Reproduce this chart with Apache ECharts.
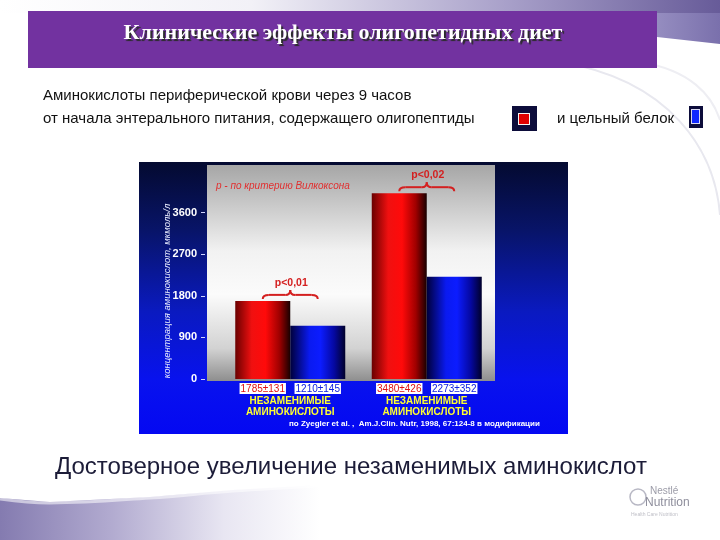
<!DOCTYPE html>
<html><head><meta charset="utf-8">
<script src="https://cdn.jsdelivr.net/npm/echarts@6/dist/echarts.min.js"></script>
<style>html,body{margin:0;padding:0;background:#fff}#c{width:720px;height:540px}</style>
</head><body><div id="c"></div>
<script>
// ---- data ----
const categories = ['НЕЗАМЕНИМЫЕ\nАМИНОКИСЛОТЫ', 'НЕЗАМЕНИМЫЕ\nАМИНОКИСЛОТЫ'];
const seriesNames = ['олигопептиды', 'цельный белок'];
const oligopeptideValues = [1690, 4020];
const wholeProteinValues = [1150, 2210];
const oligopeptideLabels = ['1785±131', '3480±426'];
const wholeProteinLabels = ['1210±145', '2273±352'];
const yTicks = [0, 900, 1800, 2700, 3600];
const pValues = ['p<0,01', 'p<0,02'];

const title = 'Клинические эффекты олигопетидных диет';
const subtitle1 = 'Аминокислоты периферической крови через 9 часов';
const subtitle2 = 'от начала энтерального питания, содержащего олигопептиды';
const subtitle3 = 'и цельный белок';
const yName = 'концентрация аминокислот, мкмоль/л';
const noteText = 'p - по критерию Вилкоксона';
const sourceText = 'по Zyegler et al. ,  Am.J.Clin. Nutr, 1998, 67:124-8 в модификации';
const conclusion = 'Достоверное увеличение незаменимых аминокислот';

const BAR_W = 55;
const G = echarts.graphic;

const redGrad = new G.LinearGradient(0, 0, 1, 0, [
  {offset: 0, color: '#6a0000'}, {offset: 0.3, color: '#f01010'},
  {offset: 0.55, color: '#ff0a0a'}, {offset: 0.8, color: '#a00000'}, {offset: 1, color: '#180000'}]);
const blueGrad = new G.LinearGradient(0, 0, 1, 0, [
  {offset: 0, color: '#00003a'}, {offset: 0.35, color: '#0a1af0'},
  {offset: 0.55, color: '#0c1cff'}, {offset: 0.8, color: '#0508a0'}, {offset: 1, color: '#00002a'}]);

const redIcon = 'image://data:image/svg+xml;utf8,' + encodeURIComponent(
  '<svg xmlns="http://www.w3.org/2000/svg" width="25" height="25"><rect width="25" height="25" fill="#0c0c3a"/><rect x="6.5" y="7.5" width="11" height="11" fill="#e00000" stroke="#f4f4f4" stroke-width="1"/></svg>');
const blueIcon = 'image://data:image/svg+xml;utf8,' + encodeURIComponent(
  '<svg xmlns="http://www.w3.org/2000/svg" width="14" height="22"><rect width="14" height="22" fill="#0c0c3a"/><rect x="2.5" y="3.5" width="8" height="14" fill="#1028ff" stroke="#d8d8f0" stroke-width="1"/></svg>');

const chart = echarts.init(document.getElementById('c'), null, {renderer: 'canvas'});

chart.setOption({
  backgroundColor: '#ffffff',
  animation: false,
  legend: [
    {data: [{name: seriesNames[0], icon: redIcon}], left: 512, top: 106, itemWidth: 25, itemHeight: 25,
     formatter: () => '', selectedMode: false, padding: 0, itemGap: 0},
    {data: [{name: seriesNames[1], icon: blueIcon}], left: 689, top: 106, itemWidth: 14, itemHeight: 22,
     formatter: () => '', selectedMode: false, padding: 0, itemGap: 0}
  ],
  grid: {left: 222, top: 165, width: 273, height: 214, containLabel: false},
  xAxis: {
    type: 'category', data: categories,
    axisLine: {show: false}, axisTick: {show: false},
    axisLabel: {color: '#ffff30', fontWeight: 'bold', fontSize: 10, lineHeight: 11,
      fontFamily: 'Arial, Liberation Sans', margin: 17, interval: 0}
  },
  yAxis: {
    type: 'value', min: 0, max: 4630, interval: 900, offset: 17,
    splitLine: {show: false}, axisLine: {show: false},
    axisTick: {show: true, length: 4, customValues: yTicks, lineStyle: {color: '#d0d4ff', width: 1}},
    axisLabel: {customValues: yTicks, color: '#ffffff', fontWeight: 'bold', fontSize: 11,
      fontFamily: 'Arial, Liberation Sans', margin: 8, formatter: v => String(v)}
  },
  series: [
    {name: seriesNames[0], type: 'bar', data: oligopeptideValues, barWidth: BAR_W, barGap: '0%', z: 5,
     itemStyle: {color: redGrad},
     label: {show: true, position: 'bottom', distance: 4, formatter: p => oligopeptideLabels[p.dataIndex],
       color: '#e01010', backgroundColor: '#ffffff', padding: [1, 1, 0, 1], fontSize: 10,
       fontFamily: 'Liberation Sans Narrow, Arial Narrow, Arial'}},
    {name: seriesNames[1], type: 'bar', data: wholeProteinValues, barWidth: BAR_W, barGap: '0%', z: 5,
     itemStyle: {color: blueGrad},
     label: {show: true, position: 'bottom', distance: 4, formatter: p => wholeProteinLabels[p.dataIndex],
       color: '#1020e0', backgroundColor: '#ffffff', padding: [1, 1, 0, 1], fontSize: 10,
       fontFamily: 'Liberation Sans Narrow, Arial Narrow, Arial'}}
  ]
});

// ---- decorations & annotations (positions from the chart's scales) ----
const BRACE_COLOR = '#d42020';
function braceParts(x1, x2, yl) {
  const xm = (x1 + x2) / 2;
  const st = {stroke: BRACE_COLOR, lineWidth: 2, fill: null};
  const q = (ax, ay, cx, cy, bx, by) => ({type: 'bezierCurve', z: 6,
    shape: {x1: ax, y1: ay, x2: bx, y2: by, cpx1: cx, cpy1: cy}, style: st});
  const l = (ax, ay, bx, by) => ({type: 'line', z: 6, shape: {x1: ax, y1: ay, x2: bx, y2: by}, style: st});
  return [
    q(x1, yl + 4, x1, yl, x1 + 6, yl),
    l(x1 + 6, yl, xm - 5, yl),
    q(xm - 5, yl, xm, yl, xm, yl - 5),
    q(xm, yl - 5, xm, yl, xm + 5, yl),
    l(xm + 5, yl, x2 - 6, yl),
    q(x2 - 6, yl, x2, yl, x2, yl + 4)
  ];
}

const gx = [];
// top band + right swoosh
gx.push({type: 'rect', z: 0, shape: {x: 0, y: 0, width: 720, height: 13},
  style: {fill: new G.LinearGradient(0, 0, 1, 0, [{offset: 0, color: '#ffffff'}, {offset: 0.35, color: '#f2f1f7'},
    {offset: 0.7, color: '#a9a1ca'}, {offset: 1, color: '#675b99'}])}});
gx.push({type: 'polygon', z: 0, shape: {points: [[657, 13], [720, 13], [720, 44], [657, 37]]},
  style: {fill: new G.LinearGradient(0, 0, 1, 0, [{offset: 0, color: '#958dc0'}, {offset: 1, color: '#7a70ac'}])}});
gx.push({type: 'bezierCurve', z: 0, shape: {x1: 560, y1: 62, x2: 720, y2: 215, cpx1: 670, cpy1: 80, cpx2: 715, cpy2: 150},
  style: {stroke: '#e8e8ef', lineWidth: 2, fill: null}});
gx.push({type: 'bezierCurve', z: 0, shape: {x1: 640, y1: 62, x2: 720, y2: 120, cpx1: 690, cpy1: 70, cpx2: 712, cpy2: 95},
  style: {stroke: '#eeeef3', lineWidth: 2, fill: null}});
// bottom-left swoosh
gx.push({type: 'polygon', z: 0, shape: {points: [[0, 498], [50, 502], [150, 497], [233, 490], [320, 485], [320, 540], [0, 540]]},
  style: {fill: new G.LinearGradient(0, 0, 1, 0, [{offset: 0, color: '#847bb0'}, {offset: 0.35, color: '#b2abd0'},
    {offset: 0.7, color: '#e8e6f2'}, {offset: 1, color: '#ffffff'}])}});
gx.push({type: 'polyline', z: 0, shape: {points: [[0, 499], [50, 503], [150, 498], [233, 491], [320, 486]], smooth: 0.4},
  style: {stroke: 'rgba(255,255,255,0.55)', lineWidth: 3, fill: null}});
// title banner
gx.push({type: 'rect', z: 1, shape: {x: 28, y: 11, width: 629, height: 57}, style: {fill: '#7232a0'}});
gx.push({type: 'text', z: 2, x: 343, y: 33, style: {text: title, fill: '#ffffff',
  font: 'bold 22px "Liberation Serif", "Times New Roman", serif', align: 'center', verticalAlign: 'middle',
  textShadowColor: '#2a2a2a', textShadowOffsetX: 2, textShadowOffsetY: 2, textShadowBlur: 1}});
// subtitle
gx.push({type: 'text', z: 2, x: 43, y: 96, style: {text: subtitle1, fill: '#111111',
  font: '15px "Liberation Sans", Arial, sans-serif', verticalAlign: 'middle'}});
gx.push({type: 'text', z: 2, x: 43, y: 119, style: {text: subtitle2, fill: '#111111',
  font: '15px "Liberation Sans", Arial, sans-serif', verticalAlign: 'middle'}});
gx.push({type: 'text', z: 2, x: 557, y: 119, style: {text: subtitle3, fill: '#111111',
  font: '15px "Liberation Sans", Arial, sans-serif', verticalAlign: 'middle'}});
// chart panel
gx.push({type: 'rect', z: 0, shape: {x: 139, y: 162, width: 429, height: 272},
  style: {fill: new G.LinearGradient(0, 0, 0, 1, [{offset: 0, color: '#040a30'}, {offset: 0.25, color: '#081468'},
    {offset: 0.55, color: '#0a1ac0'}, {offset: 0.8, color: '#0812ee'}, {offset: 1, color: '#0408f2'}])}});
gx.push({type: 'rect', z: 1, shape: {x: 207, y: 165, width: 288, height: 216},
  style: {fill: new G.LinearGradient(0, 0, 0, 1, [{offset: 0, color: '#a6a6a6'}, {offset: 0.4, color: '#f2f2f2'},
    {offset: 0.6, color: '#fbfbfb'}, {offset: 0.85, color: '#d2d2d2'}, {offset: 1, color: '#8e8e8e'}])}});
// y axis name
gx.push({type: 'text', z: 3, x: 167, y: 291, rotation: Math.PI / 2, style: {text: yName, fill: '#e8ecff',
  font: 'italic 9.5px "Liberation Sans", Arial, sans-serif', align: 'center', verticalAlign: 'middle'}});
// notes
gx.push({type: 'text', z: 6, x: 216, y: 186, style: {text: noteText, fill: '#e03030',
  font: 'italic 10px "Liberation Sans", Arial, sans-serif', verticalAlign: 'middle'}});
gx.push({type: 'text', z: 6, x: 289, y: 424, style: {text: sourceText, fill: '#ffffff',
  font: 'bold 8px "Liberation Sans", Arial, sans-serif', verticalAlign: 'middle'}});
// braces with p values
for (let i = 0; i < categories.length; i++) {
  const top = Math.max(oligopeptideValues[i], wholeProteinValues[i]);
  const c = chart.convertToPixel({gridIndex: 0}, [i, top]);
  const x1 = c[0] - BAR_W / 2, x2 = c[0] + BAR_W / 2, yl = c[1] - 6;
  braceParts(x1, x2, yl).forEach(p => gx.push(p));
  gx.push({type: 'text', z: 6, x: c[0] + 1, y: yl - 12, style: {text: pValues[i], fill: BRACE_COLOR,
    font: 'bold 10.5px "Liberation Sans", Arial, sans-serif', align: 'center', verticalAlign: 'middle'}});
}
// conclusion
gx.push({type: 'text', z: 2, x: 55, y: 467, style: {text: conclusion, fill: '#1c1c38',
  font: '24px "Liberation Sans", Arial, sans-serif', verticalAlign: 'middle'}});
// logo
gx.push({type: 'circle', z: 2, shape: {cx: 638, cy: 497, r: 8}, style: {fill: null, stroke: '#b8b8c4', lineWidth: 1.5}});
gx.push({type: 'text', z: 2, x: 650, y: 491, style: {text: 'Nestlé', fill: '#9c9ca8',
  font: '10px "Liberation Sans", Arial, sans-serif', verticalAlign: 'middle'}});
gx.push({type: 'text', z: 2, x: 645, y: 503, style: {text: 'Nutrition', fill: '#8e8e9c',
  font: '12px "Liberation Sans", Arial, sans-serif', verticalAlign: 'middle'}});
gx.push({type: 'text', z: 2, x: 631, y: 515, style: {text: 'Health Care Nutrition', fill: '#c0c0c8',
  font: '5px "Liberation Sans", Arial, sans-serif', verticalAlign: 'middle'}});

chart.setOption({graphic: gx});
</script>
</body></html>
